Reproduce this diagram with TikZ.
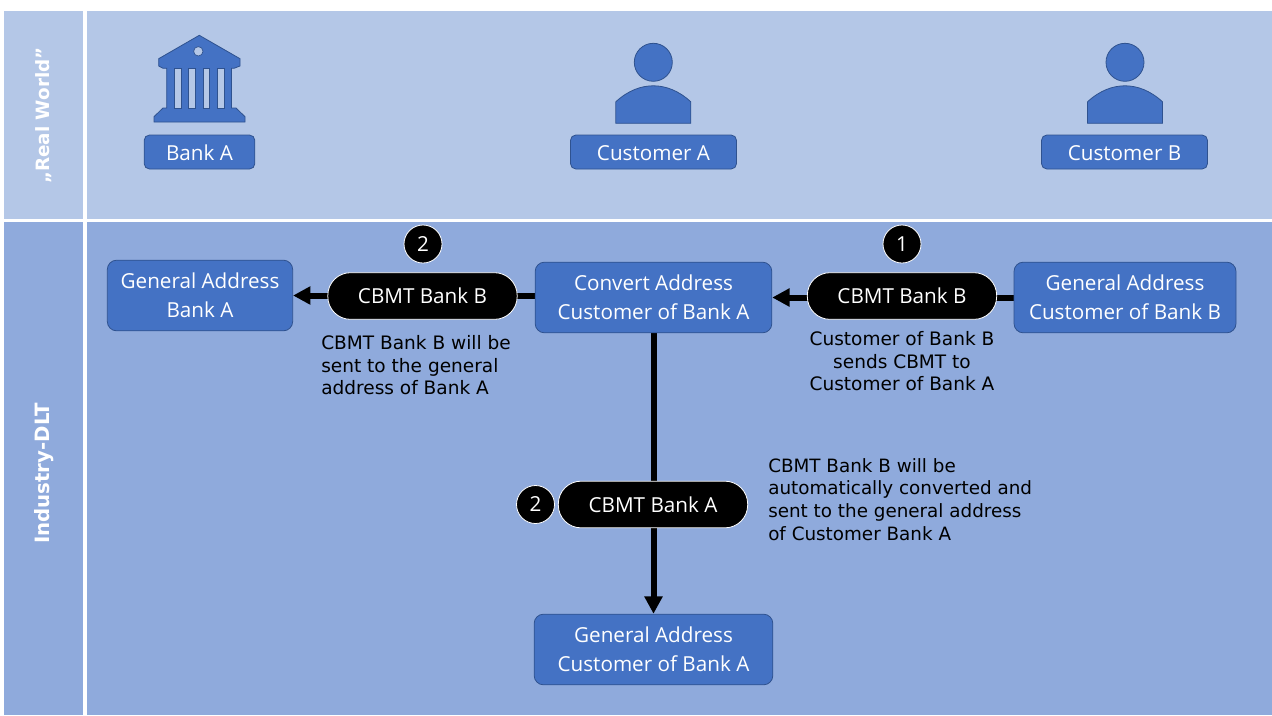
\documentclass[tikz,border=0pt]{standalone}
\usepackage{fontspec}
\setmainfont{Open Sans}
\newfontfamily\notefont{DejaVu Sans}
\usetikzlibrary{arrows.meta}
\pgfdeclarelayer{panellayer}
\pgfdeclarelayer{nodelayer}
\pgfdeclarelayer{edgelayer}
\pgfsetlayers{panellayer,edgelayer,nodelayer,main}
\definecolor{panel top}{HTML}{B4C7E7}
\definecolor{panel low}{HTML}{8FAADC}
\definecolor{box blue}{HTML}{4472C4}
\definecolor{box line}{HTML}{2F528F}
\tikzstyle{panel}=[draw=none, shape=rectangle, inner sep=0pt, outer sep=0pt]
\tikzstyle{panel title}=[text=white, rotate=90, font=\notefont\bfseries\fontsize{14.8}{17}\selectfont]
\tikzstyle{label box}=[fill=box blue, draw=box line, line width=0.6pt, shape=rectangle, rounded corners=4pt, minimum height=25.5pt, inner sep=0pt, text=white, font=\fontsize{15.5}{21.6}\selectfont, align=center, execute at begin node=\rule{0pt}{13.4pt}]
\tikzstyle{address box}=[label box, rounded corners=7pt, minimum height=53pt, execute at begin node=\rule{0pt}{18pt}]
\tikzstyle{token}=[fill=black, draw=white, line width=0.6pt, shape=rectangle, rounded corners=17pt, minimum width=142pt, minimum height=35pt, inner sep=0pt, text=white, font=\fontsize{15.5}{18}\selectfont]
\tikzstyle{badge}=[fill=black, draw=white, line width=0.6pt, shape=circle, minimum size=28.5pt, inner sep=0pt, text=white, font=\fontsize{15.5}{18}\selectfont]
\tikzstyle{note}=[inner sep=0pt, text=black, font=\notefont\fontsize{13.9}{17}\selectfont]
\tikzstyle{long note}=[note, font=\notefont\fontsize{13.75}{17}\selectfont]
\tikzstyle{transfer}=[draw=black, line width=4.5pt, -{Triangle[length=13pt,width=13pt]}]
\tikzstyle{icon}=[fill=box blue, draw=box line, line width=0.6pt]
\tikzset{
	person/.pic={
		\fill [icon] (0, -1) circle (19);
		\fill [icon] (-37.5, 60) -- (37.5, 60) -- (37.5, 38.5) .. controls (25, 27) and (12, 22.5) .. (0, 22.5) .. controls (-12, 22.5) and (-25, 27) .. (-37.5, 38.5) -- cycle;
	}
}
\begin{document}
\begin{tikzpicture}[x=0.75pt, y=-0.75pt]
	\useasboundingbox (0, 0) rectangle (1272, 715);
	\begin{pgfonlayer}{panellayer}
		\node [style=panel, fill=panel top, minimum width=59.25pt, minimum height=156pt] (0) at (43.5, 115) {};
		\node [style=panel, fill=panel top, minimum width=888.75pt, minimum height=156pt] (1) at (679.5, 115) {};
		\node [style=panel, fill=panel low, minimum width=59.25pt, minimum height=369.75pt] (2) at (43.5, 468.5) {};
		\node [style=panel, fill=panel low, minimum width=888.75pt, minimum height=369.75pt] (3) at (679.5, 468.5) {};
	\end{pgfonlayer}
	% icons
	\fill [icon] (199.3, 35.3) -- (240, 58.7) -- (240, 66) -- (234, 68.3) -- (231.5, 68.3) -- (231.5, 108) -- (236, 108) -- (245, 116.7) -- (245, 122) -- (154, 122) -- (154, 116.7) -- (163, 108) -- (166.7, 108) -- (166.7, 68.3) -- (163, 68.3) -- (158.7, 66) -- (158.7, 58.7) -- cycle;
	\foreach \slotx in {174.7, 188.7, 203, 217.3}
		\fill [fill=panel top, draw=box line, line width=0.4pt] (\slotx, 68.3) rectangle ++(6.7, 40);
	\fill [fill=panel top, draw=box line, line width=0.5pt] (198.3, 51.3) circle (4.7);
	\pic at (653.3, 63.3) {person};
	\pic at (1125, 63.3) {person};
	\begin{pgfonlayer}{nodelayer}
		\node [style=panel title, scale=0.93] (4) at (44, 115.5) {„Real World”};
		\node [style=panel title] (5) at (44, 473.5) {Industry-DLT};
		\node [style=label box, minimum width=83pt] (6) at (199.5, 152) {Bank A};
		\node [style=label box, minimum width=124.5pt] (7) at (653.5, 152) {Customer A};
		\node [style=label box, minimum width=124.5pt] (8) at (1124.5, 152) {Customer B};
		\node [style=address box, minimum width=139pt] (9) at (200, 295.5) {General Address\\Bank A};
		\node [style=address box, minimum width=177.5pt] (10) at (653.5, 297.5) {Convert Address\\Customer of Bank A};
		\node [style=address box, minimum width=166.5pt] (11) at (1125, 297.5) {General Address\\Customer of Bank B};
		\node [style=address box, minimum width=179pt] (12) at (653.5, 649.5) {General Address\\Customer of Bank A};
		\node [style=token] (13) at (422.5, 296) {CBMT Bank B};
		\node [style=token] (14) at (902, 296) {CBMT Bank B};
		\node [style=token] (15) at (653, 504.5) {CBMT Bank A};
		\node [style=badge] (16) at (423, 244) {2};
		\node [style=badge] (17) at (902, 244) {1};
		\node [style=badge] (18) at (535.5, 504.5) {2};
		\node [style=note, align=left, anchor=north west] (19) at (321, 335) {CBMT Bank B will be\\sent to the general\\address of Bank A};
		\node [style=note, align=center, anchor=north] (20) at (902, 331) {Customer of Bank B\\sends CBMT to\\Customer of Bank A};
		\node [style=long note, align=left, anchor=north west] (21) at (768, 458) {CBMT Bank B will be\\automatically converted and\\sent to the general address\\of Customer Bank A};
	\end{pgfonlayer}
	\begin{pgfonlayer}{edgelayer}
		\draw [style=transfer] (11) to (10);
		\draw [style=transfer] (10.west |- 9) to (9);
		\draw [style=transfer] (10) to (12);
	\end{pgfonlayer}
\end{tikzpicture}
\end{document}
